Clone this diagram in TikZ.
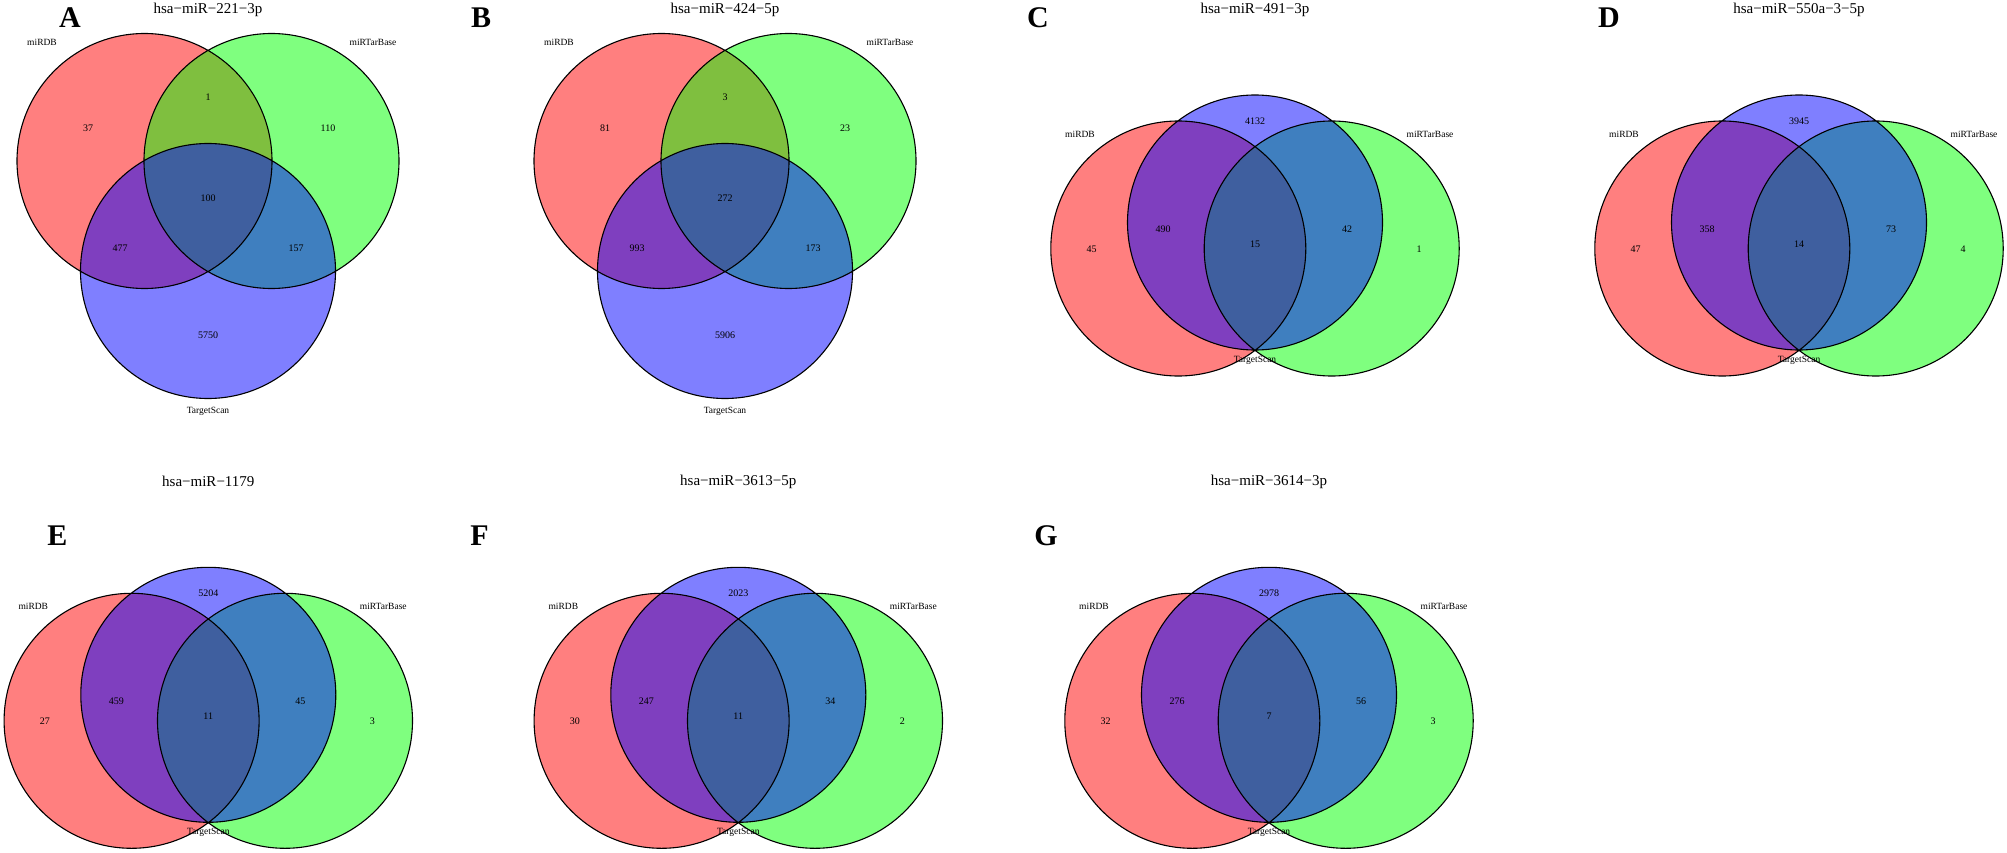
\documentclass[tikz,border=0pt]{standalone}
\usepackage{fontspec}
\setmainfont{Liberation Serif}
\usepackage{tikz}

\begin{document}
\begin{tikzpicture}[x=1pt,y=-1pt,
  redset/.style={fill=red,fill opacity=0.5},
  greenset/.style={fill=green,fill opacity=0.5},
  blueset/.style={fill=blue,fill opacity=0.5},
  rim/.style={draw=black,line width=1.1pt},
  num/.style={font=\fontsize{10}{10}\selectfont},
  dbname/.style={font=\fontsize{9.5}{9.5}\selectfont},
  title/.style={font=\fontsize{15}{15}\selectfont},
  panel/.style={font=\bfseries\fontsize{30}{30}\selectfont}]
\useasboundingbox[fill=white] (0,0) rectangle (2007,853);

% panel letters
\node[panel] (pA) at (70,18) {A};
\node[panel] (pB) at (481,18) {B};
\node[panel] (pC) at (1038,18) {C};
\node[panel] (pD) at (1609,18) {D};
\node[panel] (pE) at (57.5,536) {E};
\node[panel] (pF) at (479.5,536) {F};
\node[panel] (pG) at (1046,536) {G};

% A
\begin{scope}[shift={(208,0)}]
\fill[redset] (-63.5,161) circle[radius=127.5pt];
\fill[greenset] (63.5,161) circle[radius=127.5pt];
\fill[blueset] (0,271) circle[radius=127.5pt];
\draw[rim] (-63.5,161) circle[radius=127.5pt] (63.5,161) circle[radius=127.5pt]
  (0,271) circle[radius=127.5pt];
\node[title] (Atitle) at (0,10) {hsa−miR−221−3p};
\node[dbname] (Amirdb) at (-166,42) {miRDB};
\node[dbname] (Atarbase) at (165,42) {miRTarBase};
\node[dbname] (Atscan) at (0,411) {TargetScan};
\node[num] (An1) at (-120,128) {37};
\node[num] (An2) at (0,97) {1};
\node[num] (An3) at (120,128) {110};
\node[num] (An4) at (0,198) {100};
\node[num] (An5) at (-88,248) {477};
\node[num] (An6) at (88,248) {157};
\node[num] (An7) at (0,335) {5750};
\end{scope}

% B
\begin{scope}[shift={(725,0)}]
\fill[redset] (-63.5,161) circle[radius=127.5pt];
\fill[greenset] (63.5,161) circle[radius=127.5pt];
\fill[blueset] (0,271) circle[radius=127.5pt];
\draw[rim] (-63.5,161) circle[radius=127.5pt] (63.5,161) circle[radius=127.5pt]
  (0,271) circle[radius=127.5pt];
\node[title] (Btitle) at (0,10) {hsa−miR−424−5p};
\node[dbname] (Bmirdb) at (-166,42) {miRDB};
\node[dbname] (Btarbase) at (165,42) {miRTarBase};
\node[dbname] (Btscan) at (0,411) {TargetScan};
\node[num] (Bn1) at (-120,128) {81};
\node[num] (Bn2) at (0,97) {3};
\node[num] (Bn3) at (120,128) {23};
\node[num] (Bn4) at (0,198) {272};
\node[num] (Bn5) at (-88,248) {993};
\node[num] (Bn6) at (88,248) {173};
\node[num] (Bn7) at (0,335) {5906};
\end{scope}

% C
\begin{scope}[shift={(1255,0)}]
\fill[redset] (-76.7,248.5) circle[radius=127.5pt];
\fill[greenset] (76.7,248.5) circle[radius=127.5pt];
\fill[blueset] (0,222.5) circle[radius=127.5pt];
\draw[rim] (-76.7,248.5) circle[radius=127.5pt] (76.7,248.5) circle[radius=127.5pt]
  (0,222.5) circle[radius=127.5pt];
\node[title] (Ctitle) at (0,10) {hsa−miR−491−3p};
\node[dbname] (Cmirdb) at (-175,134.5) {miRDB};
\node[dbname] (Ctarbase) at (175,134.5) {miRTarBase};
\node[dbname] (Ctscan) at (0,360) {TargetScan};
\node[num] (Cn1) at (0,121) {4132};
\node[num] (Cn2) at (-163.5,249) {45};
\node[num] (Cn3) at (-92,229) {490};
\node[num] (Cn4) at (0,244) {15};
\node[num] (Cn5) at (92,229) {42};
\node[num] (Cn6) at (164,249) {1};
\end{scope}

% D
\begin{scope}[shift={(1799,0)}]
\fill[redset] (-76.7,248.5) circle[radius=127.5pt];
\fill[greenset] (76.7,248.5) circle[radius=127.5pt];
\fill[blueset] (0,222.5) circle[radius=127.5pt];
\draw[rim] (-76.7,248.5) circle[radius=127.5pt] (76.7,248.5) circle[radius=127.5pt]
  (0,222.5) circle[radius=127.5pt];
\node[title] (Dtitle) at (0,10) {hsa−miR−550a−3−5p};
\node[dbname] (Dmirdb) at (-175,134.5) {miRDB};
\node[dbname] (Dtarbase) at (175,134.5) {miRTarBase};
\node[dbname] (Dtscan) at (0,360) {TargetScan};
\node[num] (Dn1) at (0,121) {3945};
\node[num] (Dn2) at (-163.5,249) {47};
\node[num] (Dn3) at (-92,229) {358};
\node[num] (Dn4) at (0,244) {14};
\node[num] (Dn5) at (92,229) {73};
\node[num] (Dn6) at (164,249) {4};
\end{scope}

% E
\begin{scope}[shift={(208.3,472.3)}]
\fill[redset] (-76.7,248.5) circle[radius=127.5pt];
\fill[greenset] (76.7,248.5) circle[radius=127.5pt];
\fill[blueset] (0,222.5) circle[radius=127.5pt];
\draw[rim] (-76.7,248.5) circle[radius=127.5pt] (76.7,248.5) circle[radius=127.5pt]
  (0,222.5) circle[radius=127.5pt];
\node[title] (Etitle) at (0,9.4) {hsa−miR−1179};
\node[dbname] (Emirdb) at (-175,134.5) {miRDB};
\node[dbname] (Etarbase) at (175,134.5) {miRTarBase};
\node[dbname] (Etscan) at (0,360) {TargetScan};
\node[num] (En1) at (0,121) {5204};
\node[num] (En2) at (-163.5,249) {27};
\node[num] (En3) at (-92,229) {459};
\node[num] (En4) at (0,244) {11};
\node[num] (En5) at (92,229) {45};
\node[num] (En6) at (164,249) {3};
\end{scope}

% F
\begin{scope}[shift={(738.3,472.3)}]
\fill[redset] (-76.7,248.5) circle[radius=127.5pt];
\fill[greenset] (76.7,248.5) circle[radius=127.5pt];
\fill[blueset] (0,222.5) circle[radius=127.5pt];
\draw[rim] (-76.7,248.5) circle[radius=127.5pt] (76.7,248.5) circle[radius=127.5pt]
  (0,222.5) circle[radius=127.5pt];
\node[title] (Ftitle) at (0,9.4) {hsa−miR−3613−5p};
\node[dbname] (Fmirdb) at (-175,134.5) {miRDB};
\node[dbname] (Ftarbase) at (175,134.5) {miRTarBase};
\node[dbname] (Ftscan) at (0,360) {TargetScan};
\node[num] (Fn1) at (0,121) {2023};
\node[num] (Fn2) at (-163.5,249) {30};
\node[num] (Fn3) at (-92,229) {247};
\node[num] (Fn4) at (0,244) {11};
\node[num] (Fn5) at (92,229) {34};
\node[num] (Fn6) at (164,249) {2};
\end{scope}

% G
\begin{scope}[shift={(1269,472.3)}]
\fill[redset] (-76.7,248.5) circle[radius=127.5pt];
\fill[greenset] (76.7,248.5) circle[radius=127.5pt];
\fill[blueset] (0,222.5) circle[radius=127.5pt];
\draw[rim] (-76.7,248.5) circle[radius=127.5pt] (76.7,248.5) circle[radius=127.5pt]
  (0,222.5) circle[radius=127.5pt];
\node[title] (Gtitle) at (0,9.4) {hsa−miR−3614−3p};
\node[dbname] (Gmirdb) at (-175,134.5) {miRDB};
\node[dbname] (Gtarbase) at (175,134.5) {miRTarBase};
\node[dbname] (Gtscan) at (0,360) {TargetScan};
\node[num] (Gn1) at (0,121) {2978};
\node[num] (Gn2) at (-163.5,249) {32};
\node[num] (Gn3) at (-92,229) {276};
\node[num] (Gn4) at (0,244) {7};
\node[num] (Gn5) at (92,229) {56};
\node[num] (Gn6) at (164,249) {3};
\end{scope}
\end{tikzpicture}
\end{document}
